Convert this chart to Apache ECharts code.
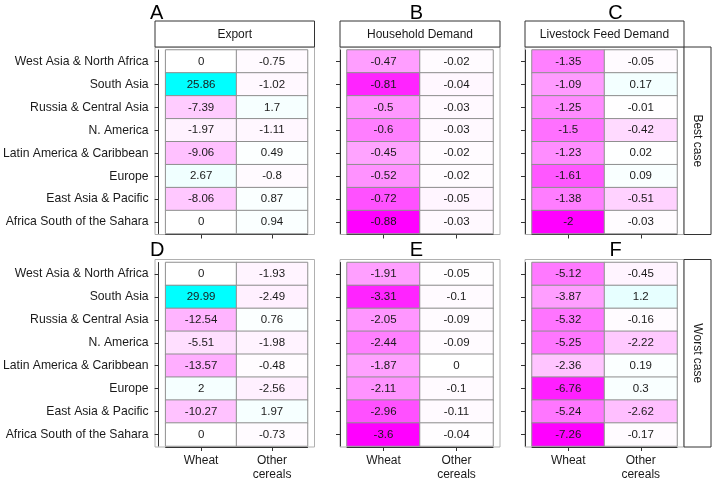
<!DOCTYPE html>
<html>
<head>
<meta charset="utf-8">
<script src="https://cdn.jsdelivr.net/npm/echarts@6/dist/echarts.min.js"></script>
<style>
html,body{margin:0;padding:0;background:#fff;}
#chart{width:714px;height:482px;}
</style>
</head>
<body>
<div id="chart"></div>
<script>
// ---- data ----
const regions = ['West Asia & North Africa', 'South Asia', 'Russia & Central Asia', 'N. America',
  'Latin America & Caribbean', 'Europe', 'East Asia & Pacific', 'Africa South of the Sahara'];
const crops = ['Wheat', 'Other\ncereals'];
const panelTitles = ['Export', 'Household Demand', 'Livestock Feed Demand'];
const scenarioTitles = ['Best case', 'Worst case'];
const panelLetters = ['A', 'B', 'C', 'D', 'E', 'F'];

const exportBestWheat = [0, 25.86, -7.39, -1.97, -9.06, 2.67, -8.06, 0];
const exportBestOther = [-0.75, -1.02, 1.7, -1.11, 0.49, -0.8, 0.87, 0.94];
const householdBestWheat = [-0.47, -0.81, -0.5, -0.6, -0.45, -0.52, -0.72, -0.88];
const householdBestOther = [-0.02, -0.04, -0.03, -0.03, -0.02, -0.02, -0.05, -0.03];
const feedBestWheat = [-1.35, -1.09, -1.25, -1.5, -1.23, -1.61, -1.38, -2];
const feedBestOther = [-0.05, 0.17, -0.01, -0.42, 0.02, 0.09, -0.51, -0.03];
const exportWorstWheat = [0, 29.99, -12.54, -5.51, -13.57, 2, -10.27, 0];
const exportWorstOther = [-1.93, -2.49, 0.76, -1.98, -0.48, -2.56, 1.97, -0.73];
const householdWorstWheat = [-1.91, -3.31, -2.05, -2.44, -1.87, -2.11, -2.96, -3.6];
const householdWorstOther = [-0.05, -0.1, -0.09, -0.09, 0, -0.1, -0.11, -0.04];
const feedWorstWheat = [-5.12, -3.87, -5.32, -5.25, -2.36, -6.76, -5.24, -7.26];
const feedWorstOther = [-0.45, 1.2, -0.16, -2.22, 0.19, 0.3, -2.62, -0.17];

const panelData = [
  [exportBestWheat, exportBestOther],
  [householdBestWheat, householdBestOther],
  [feedBestWheat, feedBestOther],
  [exportWorstWheat, exportWorstOther],
  [householdWorstWheat, householdWorstOther],
  [feedWorstWheat, feedWorstOther]
];

// diverging palette (magenta - white - cyan, Lab-like steps)
const palette = ['#ff00ff', '#ff70ff', '#ffa5ff', '#ffd3ff', '#ffffff', '#dbffff', '#b2ffff', '#7effff', '#00ffff'];

// ---- layout ----
const FONT = 'Liberation Sans, Arial, sans-serif';
const colLeft = [162, 347, 532];
const colWidth = [145.5, 146, 145];
const rowTop = [50, 262.5];
const rowHeight = 183.5;
const letterX = [150, 416.5, 615.5];

const grid = [], xAxis = [], yAxis = [], series = [], visualMap = [], graphic = [];

panelData.forEach((pd, i) => {
  const r = Math.floor(i / 3), c = i % 3;
  const L = colLeft[c], W = colWidth[c], T = rowTop[r], H = rowHeight;
  grid.push({left: L, top: T, width: W, height: H, containLabel: false});
  xAxis.push({
    type: 'category', data: crops, gridIndex: i, offset: 1,
    axisLine: {show: true, lineStyle: {color: '#333', width: 1}},
    axisTick: {show: true, alignWithLabel: true, length: 4, lineStyle: {color: '#333'}},
    axisLabel: {show: r === 1, color: '#1a1a1a', fontSize: 12, fontFamily: FONT, margin: 7, lineHeight: 14},
    splitLine: {show: false}
  });
  yAxis.push({
    type: 'category', data: regions, gridIndex: i, inverse: true, offset: 7,
    axisLine: {show: true, lineStyle: {color: '#333', width: 1}},
    axisTick: {show: true, alignWithLabel: true, length: 4, lineStyle: {color: '#333'}},
    axisLabel: {show: c === 0, color: '#1a1a1a', fontSize: 12.2, fontFamily: FONT, margin: 10},
    splitLine: {show: false}
  });
  const data = [];
  pd.forEach((arr, ci) => arr.forEach((v, ri) => data.push([ci, ri, v])));
  let M = 0;
  data.forEach(d => { M = Math.max(M, Math.abs(d[2])); });
  visualMap.push({
    show: false, type: 'continuous', seriesIndex: i, dimension: 2,
    min: -M, max: M, inRange: {color: palette}
  });
  series.push({
    type: 'heatmap', xAxisIndex: i, yAxisIndex: i, data: data,
    itemStyle: {borderColor: '#8f8f8f', borderWidth: 1},
    label: {show: true, color: '#1a1a1a', fontSize: 11.5, fontFamily: FONT,
      formatter: p => String(p.value[2])},
    emphasis: {disabled: true}
  });
  // panel frame
  graphic.push({type: 'rect', silent: true, z: 0,
    shape: {x: L - 7, y: T - 3, width: W + 14, height: H + 4},
    style: {fill: 'none', stroke: '#b0b0b0', lineWidth: 1}});
  // panel letter
  graphic.push({type: 'text', silent: true,
    x: letterX[c], y: r === 0 ? 13 : 250,
    style: {text: panelLetters[i], fill: '#000', font: '20px ' + FONT,
      textAlign: c === 0 ? 'left' : 'center', textVerticalAlign: 'middle'}});
  if (r === 0) {
    graphic.push({type: 'rect', silent: true,
      shape: {x: L - 7, y: 21, width: W + 14, height: 26},
      style: {fill: '#fff', stroke: '#333', lineWidth: 1}});
    graphic.push({type: 'text', silent: true, x: L + W / 2, y: 34.5,
      style: {text: panelTitles[c], fill: '#1a1a1a', font: '12px ' + FONT,
        textAlign: 'center', textVerticalAlign: 'middle'}});
  }
  if (c === 2) {
    graphic.push({type: 'rect', silent: true,
      shape: {x: 684, y: T - 3, width: 27, height: H + 4},
      style: {fill: '#fff', stroke: '#333', lineWidth: 1}});
    graphic.push({type: 'text', silent: true, x: 697.5, y: T - 3 + (H + 4) / 2,
      rotation: -Math.PI / 2,
      style: {text: scenarioTitles[r], fill: '#1a1a1a', font: '12px ' + FONT,
        textAlign: 'center', textVerticalAlign: 'middle'}});
  }
});

const chart = echarts.init(document.getElementById('chart'), null, {renderer: 'canvas'});
chart.setOption({
  animation: false,
  backgroundColor: '#fff',
  grid, xAxis, yAxis, visualMap, series, graphic
});
</script>
</body>
</html>
